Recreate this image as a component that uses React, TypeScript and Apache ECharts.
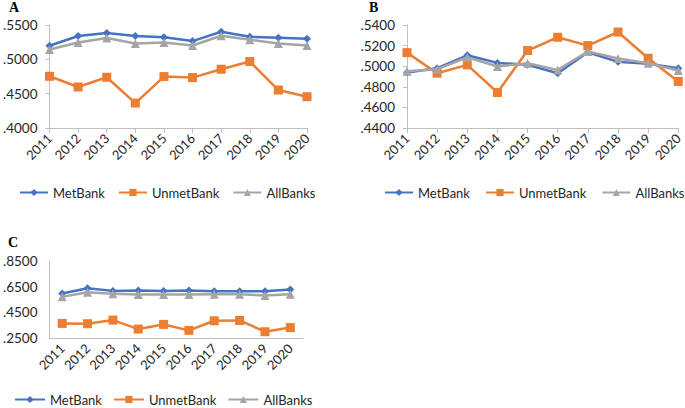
import React, { useEffect, useRef } from "react";
import * as echarts from "echarts";

const years = ["2011", "2012", "2013", "2014", "2015", "2016", "2017", "2018", "2019", "2020"];
const seriesNames = ["MetBank", "UnmetBank", "AllBanks"];

const metA = [0.5197, 0.5339, 0.5383, 0.5339, 0.532, 0.5266, 0.5402, 0.5329, 0.5315, 0.53];
const unmetA = [0.4753, 0.4597, 0.4739, 0.4363, 0.4749, 0.4734, 0.4856, 0.4968, 0.4553, 0.4456];
const allA = [0.5144, 0.5246, 0.531, 0.5232, 0.5246, 0.5202, 0.5344, 0.5285, 0.5232, 0.5202];

const metB = [0.4939, 0.4981, 0.5106, 0.5032, 0.5013, 0.4932, 0.5135, 0.5042, 0.5023, 0.4981];
const unmetB = [0.5132, 0.4932, 0.5013, 0.4745, 0.5152, 0.5281, 0.52, 0.5332, 0.5077, 0.4852];
const allB = [0.4952, 0.4971, 0.5087, 0.4997, 0.5029, 0.4964, 0.5142, 0.5074, 0.5029, 0.4958];

const metC = [0.5965, 0.6379, 0.6172, 0.6198, 0.6172, 0.6198, 0.6146, 0.6146, 0.6146, 0.6275];
const unmetC = [0.3636, 0.3611, 0.3895, 0.3197, 0.3559, 0.3093, 0.3843, 0.3869, 0.299, 0.331];
const allC = [0.5706, 0.6068, 0.5939, 0.5887, 0.5887, 0.5887, 0.5913, 0.5913, 0.581, 0.5913];

const yTicksA = [0.4, 0.45, 0.5, 0.55];
const yTicksB = [0.44, 0.46, 0.48, 0.5, 0.52, 0.54];
const yTicksC = [0.25, 0.45, 0.65, 0.85];

const colors = ["#4472C4", "#ED7D31", "#A5A5A5"];
const symbols = ["diamond", "rect", "triangle"];
const symbolSizes = [8, 9, 9];
const FONT = "Lato";
const AXIS_COLOR = "#BFBFBF";
const TEXT_COLOR = "#262626";

const fmt = (v: number) => v.toFixed(4).replace(/^0/, "");

export default function App() {
  const ref = useRef<HTMLDivElement>(null);
  useEffect(() => {
    if (!ref.current) return;
    const chart = echarts.init(ref.current, undefined, { renderer: "svg" });

    const xAxisBase = (gridIndex: number, boundaryGap: boolean, showTick: boolean) => ({
      gridIndex,
      type: "category",
      data: years,
      boundaryGap,
      axisLine: { show: true, lineStyle: { color: AXIS_COLOR, width: 1 } },
      axisTick: { show: showTick, length: 5, lineStyle: { color: AXIS_COLOR } },
      axisLabel: {
        rotate: 45,
        interval: 0,
        margin: 8,
        fontFamily: FONT,
        fontSize: 13,
        color: TEXT_COLOR,
        showMinLabel: true,
        showMaxLabel: true,
      },
      splitLine: { show: false },
    });

    const yAxisBase = (gridIndex: number, ticks: number[], interval: number, showTick: boolean, onlyTicks: boolean) => ({
      gridIndex,
      type: "value",
      min: ticks[0],
      max: ticks[ticks.length - 1],
      interval,
      axisLine: { show: true, lineStyle: { color: AXIS_COLOR, width: 1 } },
      axisTick: { show: showTick, length: 4, lineStyle: { color: AXIS_COLOR } },
      splitLine: { show: false },
      axisLabel: {
        margin: 12,
        fontFamily: FONT,
        fontSize: 13.5,
        color: TEXT_COLOR,
        formatter: (v: number) => {
          if (onlyTicks && !ticks.some((t) => Math.abs(t - v) < 1e-6)) return "";
          return fmt(v);
        },
      },
    });

    const panels = [
      [metA, unmetA, allA],
      [metB, unmetB, allB],
      [metC, unmetC, allC],
    ];
    const series: any[] = [];
    panels.forEach((p, gi) => {
      p.forEach((data, si) => {
        series.push({
          type: "line",
          name: seriesNames[si],
          xAxisIndex: gi,
          yAxisIndex: gi,
          data,
          symbol: symbols[si],
          symbolSize: symbolSizes[si],
          showSymbol: true,
          lineStyle: { color: colors[si], width: 2.5 },
          itemStyle: { color: colors[si] },
          z: 2 + si,
        });
      });
    });

    const legendBase = (left: number, top: number, gap: number, w: number) => ({
      data: seriesNames,
      left,
      top,
      orient: "horizontal",
      itemWidth: w,
      itemHeight: 9,
      itemGap: gap,
      padding: 0,
      selectedMode: false,
      textStyle: { fontFamily: FONT, fontSize: 13, color: TEXT_COLOR },
    });

    const titleText = (text: string, x: number, y: number) => ({
      type: "text",
      x,
      y,
      style: {
        text,
        font: 'bold 14px "Liberation Serif"',
        fill: "#000",
        verticalAlign: "middle",
        align: "left",
      },
    });

    chart.setOption({
      animation: false,
      backgroundColor: "#fff",
      grid: [
        { left: 45, top: 25, width: 262, height: 103 },
        { left: 407, top: 25, width: 274, height: 103 },
        { left: 45, top: 261, width: 258, height: 77 },
      ],
      xAxis: [xAxisBase(0, false, true), xAxisBase(1, false, true), xAxisBase(2, true, false)],
      yAxis: [
        yAxisBase(0, yTicksA, 0.05, true, false),
        yAxisBase(1, yTicksB, 0.02, true, false),
        yAxisBase(2, yTicksC, 0.05, false, true),
      ],
      legend: [legendBase(19, 186, 13, 28), legendBase(384, 186, 15, 28), legendBase(14, 393, 11, 30)],
      graphic: [titleText("A", 9, 7), titleText("B", 369, 7), titleText("C", 8, 242)],
      series,
    });
    return () => chart.dispose();
  }, []);
  return (
    <div
      ref={ref}
      style={{ position: "absolute", left: 0, top: 0, width: 685, height: 408 }}
    />
  );
}
